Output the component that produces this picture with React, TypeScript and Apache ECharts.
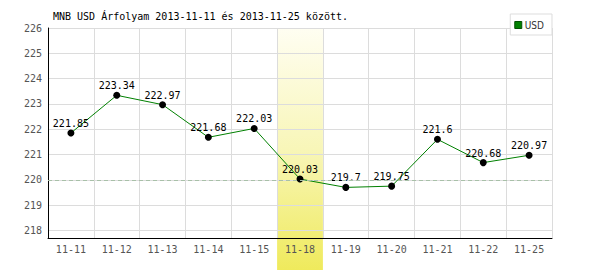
import React, { useEffect, useRef } from "react";
import * as echarts from "echarts";

const categories = ["11-11", "11-12", "11-13", "11-14", "11-15", "11-18", "11-19", "11-20", "11-21", "11-22", "11-25"];
const usdValues = [221.85, 223.34, 222.97, 221.68, 222.03, 220.03, 219.7, 219.75, 221.6, 220.68, 220.97];
const highlightCategory = "11-18";
const referenceLevel = 220;
const titleText = "MNB USD Árfolyam 2013-11-11 és 2013-11-25 között.";
const seriesName = "USD";

const mono = "'DejaVu Sans Mono', 'Liberation Mono', monospace";

export default function App() {
  const ref = useRef<HTMLDivElement>(null);
  useEffect(() => {
    if (!ref.current) return;
    const chart = echarts.init(ref.current, undefined, { renderer: "svg" });
    chart.setOption({
      animation: false,
      backgroundColor: "#ffffff",
      title: {
        text: titleText,
        left: 53,
        top: 11,
        padding: 0,
        textStyle: { fontFamily: mono, fontSize: 10, fontWeight: "normal", color: "#000" },
      },
      legend: {
        right: 48,
        top: 14,
        padding: [6, 8, 5, 4],
        itemWidth: 7,
        itemHeight: 7,
        icon: "rect",
        backgroundColor: "#fff",
        borderColor: "#dddddd",
        borderWidth: 1,
        textStyle: { fontFamily: "'Liberation Sans Narrow', 'DejaVu Sans Condensed', sans-serif", fontSize: 10, color: "#333", padding: [0, 0, 0, -2] },
        data: [{ name: seriesName, itemStyle: { color: "#008000", borderColor: "#005000", borderWidth: 1 } }],
      },
      grid: { left: 48, right: 48, top: 28, bottom: 32, containLabel: false },
      xAxis: {
        type: "category",
        data: categories,
        boundaryGap: true,
        z: 1.5,
        axisLine: { lineStyle: { color: "#000", width: 1 } },
        axisTick: { show: false },
        splitLine: { show: true, lineStyle: { color: "#dcdcdc", width: 1 } },
        axisLabel: { fontFamily: mono, fontSize: 10, color: "#555", margin: 6, interval: 0 },
      },
      yAxis: {
        type: "value",
        min: 217.7,
        max: 226,
        minInterval: 1,
        maxInterval: 1,
        z: 1.5,
        axisLine: { show: true, lineStyle: { color: "#000", width: 1 } },
        axisTick: { show: false },
        splitLine: { show: true, lineStyle: { color: "#dcdcdc", width: 1 } },
        axisLabel: {
          fontFamily: mono,
          fontSize: 10,
          color: "#555",
          margin: 6,
          formatter: (v: number) => (Math.abs(v - Math.round(v)) < 1e-6 ? String(Math.round(v)) : ""),
        },
      },
      series: [
        {
          name: "highlight",
          type: "custom",
          z: 1,
          clip: false,
          silent: true,
          data: [[highlightCategory]],
          encode: { x: 0 },
          renderItem: (params: any, api: any) => {
            const cx = api.coord([api.value(0), referenceLevel])[0];
            const w = api.size([1, 0])[0];
            const top = params.coordSys.y;
            const bottom = api.getHeight();
            return {
              type: "rect",
              shape: { x: cx - w / 2, y: top, width: w, height: bottom - top },
              style: {
                fill: new echarts.graphic.LinearGradient(0, 0, 0, 1, [
                  { offset: 0, color: "#fffef2" },
                  { offset: 0.5, color: "#f8f6b8" },
                  { offset: 1, color: "#efea5c" },
                ]),
              },
            };
          },
        },
        {
          name: seriesName,
          type: "line",
          data: usdValues,
          z: 2,
          symbol: "circle",
          symbolSize: 7,
          itemStyle: { color: "#000" },
          lineStyle: { color: "#008000", width: 1 },
          label: {
            show: true,
            position: "top",
            distance: 1,
            fontFamily: mono,
            fontSize: 10,
            color: "#000",
          },
          markLine: {
            silent: true,
            symbol: "none",
            label: { show: false },
            lineStyle: { color: "#a8c0a8", type: [4, 3], width: 1 },
            data: [{ yAxis: referenceLevel }],
          },
        },
      ],
    });
    return () => chart.dispose();
  }, []);
  return <div ref={ref} style={{ position: "fixed", left: 0, top: 0, width: 600, height: 270 }} />;
}
